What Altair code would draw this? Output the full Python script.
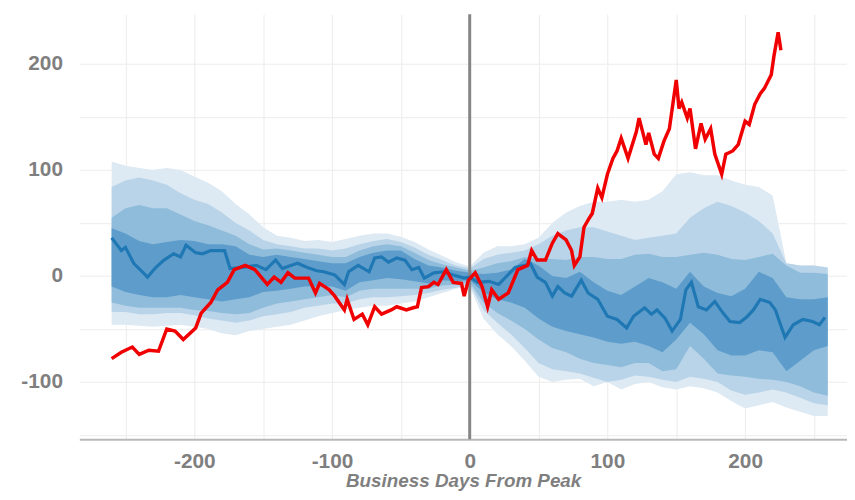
import altair as alt
import pandas as pd

# ---- red series (current cycle) ----
red_x = [-260, -253, -245, -240, -233, -226, -220, -214, -208, -199, -195, -188, -183, -176, -171,
         -163, -156, -147, -142, -137, -132, -127, -117, -112, -109, -102, -98, -91, -89, -84, -78,
         -74, -69, -64, -57, -53, -46, -41, -38, -35, -30, -26, -23, -17, -12, -6, -4, -1, 4, 9, 13,
         16, 21, 28, 35, 42, 45, 49, 55, 60, 64, 70, 74, 76, 80, 83, 87, 89, 93, 96, 100, 104, 107,
         110, 115, 121, 123, 128, 130, 134, 137, 141, 145, 150, 152, 154, 158, 160, 164, 168, 171,
         175, 178, 183, 186, 191, 195, 200, 203, 207, 211, 214, 219, 221, 224, 226]
red_y = [-78, -72, -67, -74, -70, -71, -50, -52, -60, -49, -35, -25, -13, -6, 6,
         10, 6, -8, -1, -6, 3, -2, -2, -16, -7, -13, -19, -32, -22, -41, -36,
         -46, -29, -36, -32, -29, -32, -30, -29, -11, -10, -6, -8, 6, -6, -7, -19, -4, 3, -10, -29,
         -13, -22, -16, 6, 10, 24, 15, 15, 31, 40, 34, 24, 10, 18, 46, 55, 59, 83, 74, 96, 111, 118,
         130, 111, 136, 149, 124, 135, 115, 111, 127, 139, 185, 158, 164, 149, 158, 120, 144, 129,
         139, 115, 96, 115, 118, 124, 146, 143, 162, 172, 177, 190, 208, 230, 213]

# ---- blue median ----
med_x = [-260, -253, -250, -244, -237, -234, -228, -222, -215, -210, -206, -199, -194, -188, -183,
         -178, -174, -165, -155, -148, -141, -136, -130, -125, -118, -111, -106, -98, -91, -88, -81,
         -73, -69, -64, -59, -53, -47, -42, -37, -33, -26, -19, -12, -4, 0, 6, 14, 21, 27, 33, 40,
         44, 49, 55, 60, 64, 69, 74, 81, 86, 93, 100, 107, 114, 119, 127, 132, 136, 142, 147, 153,
         157, 161, 166, 172, 178, 184, 189, 196, 201, 206, 211, 218, 222, 229, 235, 242, 249, 254, 258]
med_y = [36, 24, 27, 12, 3, -1, 8, 15, 21, 18, 29, 22, 21, 24, 24,
         24, 7, 8, 10, 6, 15, 7, 10, 12, 8, 5, 4, 1, -8, 4, 10,
         4, 17, 18, 13, 17, 15, 6, 8, -2, 3, 4, 1, -2, -1, -6, -5, -8, 0, 8, 10,
         12, -1, -6, -19, -10, -16, -19, -4, -16, -22, -38, -41, -49, -38, -30, -36, -32, -40, -52, -41,
         -13, -6, -29, -32, -24, -35, -43, -44, -39, -32, -22, -25, -32, -58, -46, -41, -43, -46, -39]

# ---- quantile bands (outer b1 ... inner b4) ----
band_x = list(range(-260, 261, 10))
b1_hi = [108, 104, 102, 100, 102, 100, 94, 88, 80, 68, 58, 46,
         38, 36, 33, 34, 32, 35, 38, 40, 40, 37, 32, 25, 19, 13, 9,
         22, 28, 28, 30, 36, 50, 60, 66, 70, 70, 72, 70, 72, 80, 96, 98, 95, 95, 90, 86, 84, 76, 12, 10, 10, 8]
b1_lo = [-46, -46, -47, -48, -47, -46, -48, -50, -54, -56, -52, -50,
         -48, -46, -42, -38, -35, -32, -30, -28, -28, -26, -24, -20, -16, -12, -10,
         -40, -55, -66, -80, -95, -100, -98, -97, -104, -100, -107, -102, -100, -105, -107, -104, -106, -110,
         -118, -125, -122, -119, -124, -128, -132, -132]
b2_hi = [84, 90, 93, 90, 86, 78, 72, 68, 60, 50, 43, 34,
         30, 28, 26, 26, 24, 26, 30, 33, 35, 32, 27, 20, 15, 10, 7,
         16, 20, 22, 24, 30, 38, 43, 46, 46, 42, 38, 34, 36, 38, 40, 55, 64, 70, 66, 60, 52, 40, 12, 10, 10, 8]
b2_lo = [-34, -34, -36, -36, -35, -35, -37, -40, -42, -44, -42, -38,
         -36, -34, -30, -28, -26, -26, -22, -20, -20, -19, -18, -16, -13, -11, -8,
         -32, -44, -55, -68, -82, -88, -90, -92, -96, -100, -98, -94, -95, -98, -100, -95, -97, -100,
         -108, -112, -110, -107, -110, -115, -120, -122]
b3_hi = [55, 64, 67, 64, 64, 58, 52, 48, 43, 38, 30, 25,
         26, 24, 22, 20, 18, 18, 24, 28, 30, 28, 22, 15, 11, 8, 5,
         8, 12, 14, 18, 16, 16, 15, 18, 18, 16, 16, 20, 21, 18, 18, 20, 22, 20, 16, 15, 18, 21, 10, 3, 3, 2]
b3_lo = [-25, -28, -30, -30, -30, -30, -32, -33, -35, -36, -35, -30,
         -26, -24, -22, -20, -18, -20, -14, -12, -12, -12, -12, -12, -9, -8, -6,
         -25, -35, -42, -50, -60, -68, -72, -78, -82, -84, -86, -82, -82, -90, -88, -66, -78, -92,
         -94, -95, -97, -98, -100, -104, -110, -113]
b4_hi = [45, 40, 33, 30, 32, 34, 33, 30, 30, 28, 20, 18,
         20, 18, 16, 14, 12, 12, 18, 22, 24, 24, 16, 10, 8, 5, 3,
         2, 3, 6, 16, 10, 0, -2, 4, -6, -14, -18, -10, -2, -6, -12, 4, -10, -16, -19, -12, 4, -2, -20, -22, -22, -20]
b4_lo = [-10, -15, -18, -20, -20, -18, -20, -22, -24, -22, -20, -15,
         -14, -12, -10, -10, -10, -14, -6, -4, -2, -3, -5, -7, -4, -5, -4,
         -15, -22, -25, -30, -40, -48, -52, -55, -58, -62, -64, -62, -66, -72, -60, -44, -55, -70,
         -75, -75, -70, -72, -90, -80, -70, -66]

x_grid = list(range(-250, 251, 50))
y_grid = list(range(-150, 201, 50))

FONT = "Liberation Sans"
GREY = "#7f7f7f"

band_df = pd.DataFrame({"x": band_x, "b1_lo": b1_lo, "b1_hi": b1_hi, "b2_lo": b2_lo, "b2_hi": b2_hi,
                        "b3_lo": b3_lo, "b3_hi": b3_hi, "b4_lo": b4_lo, "b4_hi": b4_hi})
red_df = pd.DataFrame({"x": red_x, "y": red_y})
med_df = pd.DataFrame({"x": med_x, "y": med_y})
zero_df = pd.DataFrame({"x": [0]})

xscale = alt.Scale(domain=[-283.5, 274], nice=False, zero=False)
yscale = alt.Scale(domain=[-154, 247], nice=False, zero=False)

xaxis = alt.Axis(values=x_grid, labelExpr="datum.value % 100 === 0 ? '' + datum.value : ''",
                 grid=True, gridColor="#ececec", gridWidth=1, ticks=False, tickSize=0,
                 domain=True, domainColor="#b8b8b8", domainWidth=2,
                 labelFont=FONT, labelFontSize=21, labelFontWeight="bold", labelColor=GREY,
                 labelPadding=12, title="Business Days From Peak", titleFont=FONT, titleFontSize=19,
                 titleFontWeight="bold", titleFontStyle="italic", titleColor=GREY, titlePadding=0)
yaxis = alt.Axis(values=y_grid, labelExpr="datum.value % 100 === 0 ? '' + datum.value : ''",
                 grid=True, gridColor="#ececec", gridWidth=1, ticks=False, tickSize=0, domain=False,
                 labelFont=FONT, labelFontSize=21, labelFontWeight="bold", labelColor=GREY,
                 labelPadding=17, title=None)

X = alt.X("x:Q", scale=xscale, axis=xaxis)

colors = {"b1": "#dde9f3", "b2": "#b9d4e8", "b3": "#8fbcdb", "b4": "#5e9dcb"}
layers = []
for b in ["b1", "b2", "b3", "b4"]:
    layers.append(
        alt.Chart(band_df).mark_area(color=colors[b], opacity=1).encode(
            x=X, y=alt.Y(f"{b}_lo:Q", scale=yscale, axis=yaxis), y2=f"{b}_hi:Q")
    )

rule = alt.Chart(zero_df).mark_rule(color="#858585", strokeWidth=3).encode(x=X)
median = alt.Chart(med_df).mark_line(color="#1f78b4", strokeWidth=3.2).encode(
    x=X, y=alt.Y("y:Q", scale=yscale, axis=yaxis))
red = alt.Chart(red_df).mark_line(color="#f00000", strokeWidth=3.5).encode(
    x=X, y=alt.Y("y:Q", scale=yscale, axis=yaxis))

chart = alt.layer(*layers, rule, median, red).properties(
    width=775, height=429,
    autosize=alt.AutoSizeParams(type="none"),
    padding={"left": 72, "top": 4, "right": 0, "bottom": 51},
).configure_view(stroke=None)

chart.save("out.html", embed_options={"renderer": "svg", "actions": False})
